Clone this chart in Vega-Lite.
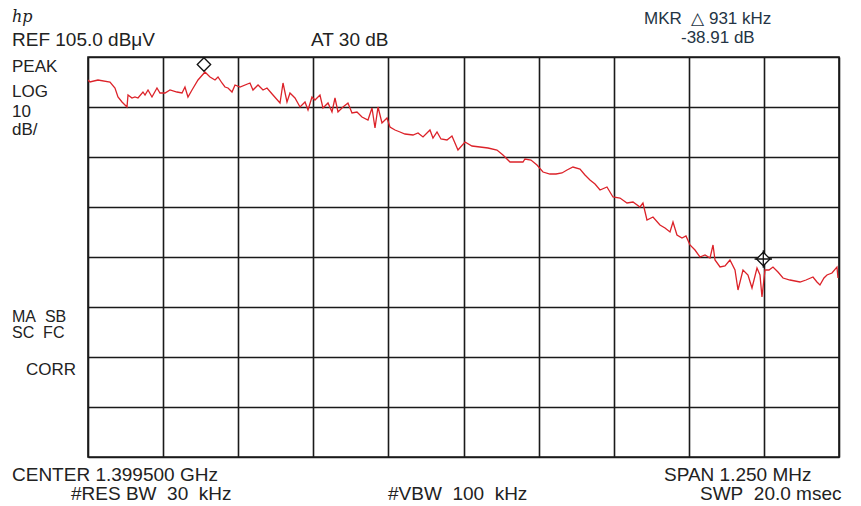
{
  "$schema": "https://vega.github.io/schema/vega-lite/v6.json",
  "width": 751,
  "height": 400,
  "autosize": {"type": "none"},
  "padding": {"left": 88, "top": 57, "right": 22, "bottom": 49},
  "background": "white",
  "data": {"values": [{"note": "annotation"}]},
  "config": {
    "view": {"stroke": "#1a1a1a", "strokeWidth": 1.6},
    "axis": {"grid": true, "labels": false, "ticks": false, "domain": false, "title": null, "gridColor": "#1a1a1a", "gridWidth": 1.6, "gridOpacity": 1},
    "text": {"font": "Liberation Sans", "fill": "#222222", "align": "left", "baseline": "middle"}
  },
  "datasets": {
    "trace": [
      {"k": -625, "dB": 100.4}, {"k": -621.7, "dB": 100.0}, {"k": -608.4, "dB": 100.4}, {"k": -588.4, "dB": 100.0},
      {"k": -580.1, "dB": 98.8}, {"k": -575.1, "dB": 97.0}, {"k": -568.4, "dB": 96.0}, {"k": -560.1, "dB": 95.0},
      {"k": -558.4, "dB": 97.4}, {"k": -551.8, "dB": 96.8}, {"k": -546.8, "dB": 97.0}, {"k": -541.8, "dB": 96.8},
      {"k": -533.5, "dB": 98.0}, {"k": -530.1, "dB": 97.4}, {"k": -525.1, "dB": 98.4}, {"k": -518.5, "dB": 97.0},
      {"k": -510.2, "dB": 98.8}, {"k": -505.2, "dB": 97.8}, {"k": -496.8, "dB": 97.8}, {"k": -488.5, "dB": 98.4},
      {"k": -476.9, "dB": 98.0}, {"k": -468.5, "dB": 97.8}, {"k": -463.6, "dB": 99.0}, {"k": -458.6, "dB": 97.0},
      {"k": -451.9, "dB": 98.4}, {"k": -441.9, "dB": 100.4}, {"k": -430.3, "dB": 102.0}, {"k": -421.9, "dB": 101.0},
      {"k": -413.6, "dB": 100.4}, {"k": -408.6, "dB": 101.0}, {"k": -402.0, "dB": 99.8}, {"k": -397.0, "dB": 99.0},
      {"k": -392.0, "dB": 98.8}, {"k": -385.3, "dB": 98.0}, {"k": -380.3, "dB": 99.4}, {"k": -372.0, "dB": 99.0},
      {"k": -355.4, "dB": 99.8}, {"k": -350.4, "dB": 98.4}, {"k": -342.0, "dB": 99.4}, {"k": -333.7, "dB": 98.4},
      {"k": -327.1, "dB": 98.8}, {"k": -317.1, "dB": 97.4}, {"k": -305.4, "dB": 95.8}, {"k": -300.4, "dB": 99.8},
      {"k": -293.8, "dB": 96.0}, {"k": -288.8, "dB": 97.8}, {"k": -280.5, "dB": 96.8}, {"k": -272.1, "dB": 95.0},
      {"k": -263.8, "dB": 96.0}, {"k": -258.8, "dB": 94.4}, {"k": -252.2, "dB": 97.0}, {"k": -247.2, "dB": 96.4},
      {"k": -238.9, "dB": 97.4}, {"k": -233.9, "dB": 94.8}, {"k": -225.5, "dB": 95.8}, {"k": -218.9, "dB": 94.0},
      {"k": -213.9, "dB": 96.8}, {"k": -208.9, "dB": 94.0}, {"k": -200.6, "dB": 95.0}, {"k": -192.3, "dB": 95.8},
      {"k": -185.6, "dB": 93.8}, {"k": -177.3, "dB": 94.0}, {"k": -169.0, "dB": 93.0}, {"k": -159.0, "dB": 92.4},
      {"k": -152.3, "dB": 94.8}, {"k": -147.3, "dB": 90.8}, {"k": -142.3, "dB": 95.0}, {"k": -135.7, "dB": 91.8},
      {"k": -127.3, "dB": 92.8}, {"k": -122.4, "dB": 91.0}, {"k": -114.0, "dB": 90.4}, {"k": -105.7, "dB": 90.0},
      {"k": -97.4, "dB": 89.6}, {"k": -84.1, "dB": 89.4}, {"k": -75.7, "dB": 89.8}, {"k": -67.4, "dB": 89.0},
      {"k": -55.8, "dB": 90.4}, {"k": -50.8, "dB": 88.8}, {"k": -44.1, "dB": 90.0}, {"k": -37.5, "dB": 88.6},
      {"k": -27.5, "dB": 88.4}, {"k": -19.2, "dB": 89.2}, {"k": -9.2, "dB": 86.4}, {"k": 2.5, "dB": 88.0},
      {"k": 14.1, "dB": 87.2}, {"k": 27.4, "dB": 87.0}, {"k": 40.8, "dB": 86.8}, {"k": 55.7, "dB": 86.4},
      {"k": 65.7, "dB": 85.4}, {"k": 77.4, "dB": 84.0}, {"k": 89.0, "dB": 84.0}, {"k": 99.0, "dB": 84.0},
      {"k": 102.3, "dB": 84.6}, {"k": 112.3, "dB": 84.4}, {"k": 122.3, "dB": 83.4}, {"k": 132.3, "dB": 82.0},
      {"k": 143.9, "dB": 81.6}, {"k": 153.9, "dB": 81.6}, {"k": 163.9, "dB": 81.8}, {"k": 172.3, "dB": 82.4},
      {"k": 182.2, "dB": 83.0}, {"k": 193.9, "dB": 82.6}, {"k": 202.2, "dB": 81.4}, {"k": 210.5, "dB": 80.4},
      {"k": 218.9, "dB": 79.6}, {"k": 227.2, "dB": 78.4}, {"k": 238.8, "dB": 79.0}, {"k": 248.8, "dB": 77.0},
      {"k": 260.5, "dB": 76.8}, {"k": 272.1, "dB": 75.8}, {"k": 282.1, "dB": 76.0}, {"k": 293.7, "dB": 75.0},
      {"k": 298.7, "dB": 75.8}, {"k": 305.4, "dB": 72.4}, {"k": 315.4, "dB": 73.0}, {"k": 327.0, "dB": 71.4},
      {"k": 335.4, "dB": 70.8}, {"k": 343.7, "dB": 70.0}, {"k": 348.7, "dB": 72.0}, {"k": 355.3, "dB": 69.4},
      {"k": 363.7, "dB": 68.8}, {"k": 370.3, "dB": 69.2}, {"k": 377.0, "dB": 67.4}, {"k": 385.3, "dB": 66.4},
      {"k": 393.6, "dB": 65.0}, {"k": 402.0, "dB": 65.4}, {"k": 410.3, "dB": 64.8}, {"k": 415.3, "dB": 67.4},
      {"k": 418.6, "dB": 64.4}, {"k": 427.0, "dB": 63.0}, {"k": 435.3, "dB": 63.2}, {"k": 443.5, "dB": 64.4},
      {"k": 451.9, "dB": 62.4}, {"k": 456.9, "dB": 58.4}, {"k": 465.2, "dB": 62.4}, {"k": 473.5, "dB": 61.4},
      {"k": 480.2, "dB": 58.8}, {"k": 488.5, "dB": 62.8}, {"k": 493.5, "dB": 61.4}, {"k": 496.8, "dB": 57.0},
      {"k": 501.8, "dB": 62.4}, {"k": 508.5, "dB": 62.4}, {"k": 515.1, "dB": 63.0}, {"k": 523.4, "dB": 62.0},
      {"k": 531.8, "dB": 60.8}, {"k": 543.4, "dB": 60.4}, {"k": 560.1, "dB": 60.0}, {"k": 570.1, "dB": 60.4},
      {"k": 581.7, "dB": 61.0}, {"k": 588.3, "dB": 60.0}, {"k": 593.3, "dB": 59.4}, {"k": 600.0, "dB": 60.8},
      {"k": 605.0, "dB": 61.4}, {"k": 613.3, "dB": 61.8}, {"k": 621.6, "dB": 63.0}, {"k": 623.3, "dB": 60.8}
    ],
    "markers": [
      {"marker": "1", "k": -432, "dB": 103.5},
      {"marker": "2", "k": 499, "dB": 64.6}
    ]
  },
  "layer": [
    {
      "data": {"name": "trace"},
      "mark": {"type": "line", "color": "#dc2229", "strokeWidth": 1.3, "clip": true},
      "encoding": {
        "x": {"field": "k", "type": "quantitative", "scale": {"domain": [-625, 625], "nice": false, "zero": false},
              "axis": {"values": [-625, -500, -375, -250, -125, 0, 125, 250, 375, 500, 625]}},
        "y": {"field": "dB", "type": "quantitative", "scale": {"domain": [25, 105], "nice": false, "zero": false},
              "axis": {"values": [25, 35, 45, 55, 65, 75, 85, 95, 105]}}
      }
    },
    {
      "data": {"name": "markers"},
      "mark": {"type": "point", "shape": "diamond", "size": 180, "filled": true, "fill": "white", "stroke": "#111111", "strokeWidth": 1.3, "opacity": 1},
      "encoding": {
        "x": {"field": "k", "type": "quantitative"},
        "y": {"field": "dB", "type": "quantitative"}
      }
    },
    {
      "data": {"name": "markers"},
      "transform": [{"filter": "datum.marker == '2'"}],
      "mark": {"type": "point", "shape": "M-1.3,0L1.3,0M0,-1.3L0,1.3", "size": 180, "filled": false, "stroke": "#111111", "strokeWidth": 1.3, "opacity": 1},
      "encoding": {
        "x": {"field": "k", "type": "quantitative"},
        "y": {"field": "dB", "type": "quantitative"}
      }
    },
    {"mark": {"type": "text", "text": "hp", "font": "DejaVu Serif", "fontStyle": "italic", "fontSize": 16},
     "encoding": {"x": {"datum": -751.5, "type": "quantitative"}, "y": {"datum": 113.0, "type": "quantitative"}}},
    {"mark": {"type": "text", "text": "REF 105.0 dBμV", "fontSize": 19},
     "encoding": {"x": {"datum": -751.5, "type": "quantitative"}, "y": {"datum": 108.4, "type": "quantitative"}}},
    {"mark": {"type": "text", "text": "AT 30 dB", "fontSize": 19},
     "encoding": {"x": {"datum": -253.8, "type": "quantitative"}, "y": {"datum": 108.4, "type": "quantitative"}}},
    {"mark": {"type": "text", "text": "MKR\u00a0\u00a0△\u00a0931 kHz", "fontSize": 17, "fill": "#243444"},
     "encoding": {"x": {"datum": 300.4, "type": "quantitative"}, "y": {"datum": 112.7, "type": "quantitative"}}},
    {"mark": {"type": "text", "text": "-38.91 dB", "fontSize": 17, "fill": "#243444"},
     "encoding": {"x": {"datum": 362, "type": "quantitative"}, "y": {"datum": 108.8, "type": "quantitative"}}},
    {"mark": {"type": "text", "text": "PEAK", "fontSize": 17},
     "encoding": {"x": {"datum": -751.5, "type": "quantitative"}, "y": {"datum": 103.0, "type": "quantitative"}}},
    {"mark": {"type": "text", "text": "LOG", "fontSize": 17},
     "encoding": {"x": {"datum": -751.5, "type": "quantitative"}, "y": {"datum": 98.0, "type": "quantitative"}}},
    {"mark": {"type": "text", "text": "10", "fontSize": 17},
     "encoding": {"x": {"datum": -751.5, "type": "quantitative"}, "y": {"datum": 94.0, "type": "quantitative"}}},
    {"mark": {"type": "text", "text": "dB/", "fontSize": 17},
     "encoding": {"x": {"datum": -751.5, "type": "quantitative"}, "y": {"datum": 90.4, "type": "quantitative"}}},
    {"mark": {"type": "text", "text": "MA\u00a0\u00a0SB", "fontSize": 16},
     "encoding": {"x": {"datum": -751.5, "type": "quantitative"}, "y": {"datum": 53.0, "type": "quantitative"}}},
    {"mark": {"type": "text", "text": "SC\u00a0\u00a0FC", "fontSize": 16},
     "encoding": {"x": {"datum": -751.5, "type": "quantitative"}, "y": {"datum": 49.8, "type": "quantitative"}}},
    {"mark": {"type": "text", "text": "CORR", "fontSize": 17},
     "encoding": {"x": {"datum": -728.2, "type": "quantitative"}, "y": {"datum": 42.4, "type": "quantitative"}}},
    {"mark": {"type": "text", "text": "CENTER 1.399500 GHz", "fontSize": 19},
     "encoding": {"x": {"datum": -751.5, "type": "quantitative"}, "y": {"datum": 21.4, "type": "quantitative"}}},
    {"mark": {"type": "text", "text": "#RES BW\u00a0\u00a030\u00a0\u00a0kHz", "fontSize": 19},
     "encoding": {"x": {"datum": -653.3, "type": "quantitative"}, "y": {"datum": 17.6, "type": "quantitative"}}},
    {"mark": {"type": "text", "text": "#VBW\u00a0\u00a0100\u00a0\u00a0kHz", "fontSize": 19},
     "encoding": {"x": {"datum": -125.7, "type": "quantitative"}, "y": {"datum": 17.6, "type": "quantitative"}}},
    {"mark": {"type": "text", "text": "SPAN 1.250 MHz", "fontSize": 19},
     "encoding": {"x": {"datum": 333.7, "type": "quantitative"}, "y": {"datum": 21.4, "type": "quantitative"}}},
    {"mark": {"type": "text", "text": "SWP\u00a0\u00a020.0 msec", "fontSize": 19},
     "encoding": {"x": {"datum": 393.6, "type": "quantitative"}, "y": {"datum": 17.6, "type": "quantitative"}}}
  ]
}
